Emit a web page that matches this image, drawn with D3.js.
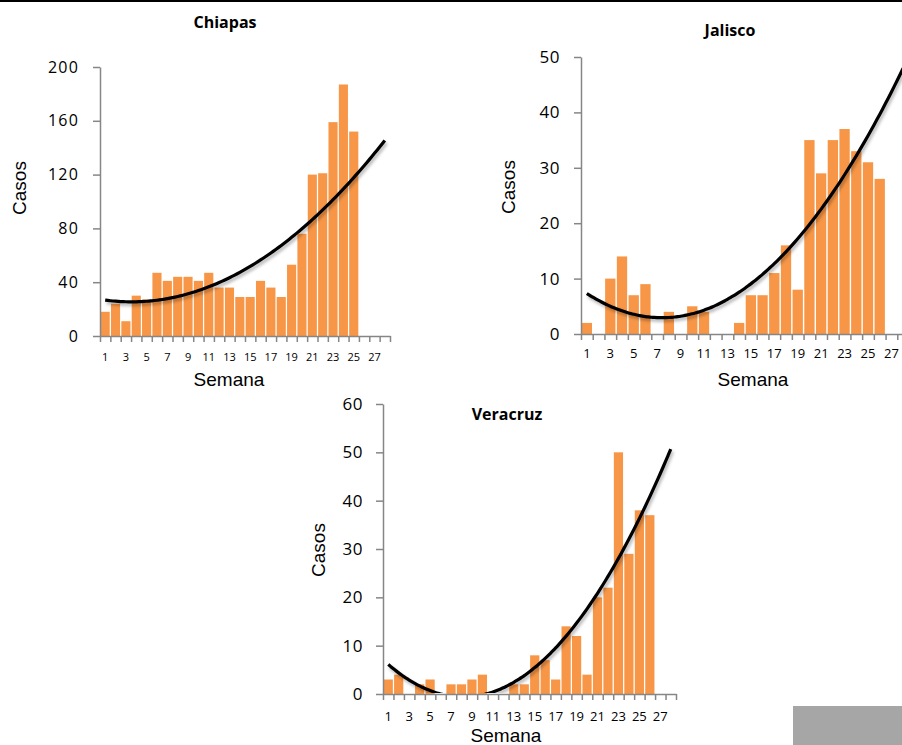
<!DOCTYPE html>
<html>
<head>
<meta charset="utf-8">
<script src="https://cdn.jsdelivr.net/npm/d3@7"></script>
<style>
  body { margin: 0; background: #fff; }
  .axis path, .axis line { stroke: #868686; stroke-width: 1.5; }
  .tickLabel { font-family: "Open Sans", sans-serif; fill: #000; }
  .axisTitle { font-family: "Liberation Sans", Arial, sans-serif; font-size: 19px; fill: #000; }
  .chartTitle { font-family: "Open Sans", sans-serif; font-weight: 700; font-size: 16px; fill: #000; }
</style>
</head>
<body>
<svg id="figure" width="902" height="745"></svg>
<script>
// semanas epidemiologicas (categorias del eje x)
var weeks = [1, 2, 3, 4, 5, 6, 7, 8, 9, 10, 11, 12, 13, 14, 15, 16, 17, 18, 19, 20, 21, 22, 23, 24, 25, 26, 27, 28];
var weekLabels = [1, 3, 5, 7, 9, 11, 13, 15, 17, 19, 21, 23, 25, 27];

// casos por semana
var chiapasCases = [18, 24, 11, 30, 27, 47, 41, 44, 44, 41, 47, 36, 36, 29, 29, 41, 36, 29, 53, 76, 120, 121, 159, 187, 152];
var jaliscoCases = [2, 0, 10, 14, 7, 9, 0, 4, 0, 5, 4, 0, 0, 2, 7, 7, 11, 16, 8, 35, 29, 35, 37, 33, 31, 28];
var veracruzCases = [3, 4, 0, 2, 3, 0, 2, 2, 3, 4, 0, 0, 2, 2, 8, 7, 3, 14, 12, 4, 20, 22, 50, 29, 38, 37];

// la tendencia de Chiapas no coincide con un ajuste de sus barras: coeficientes [c, b, a]
var chiapasTrend = [27.9, -1.42, 0.2006];

var chiapasTicks = [0, 40, 80, 120, 160, 200];
var jaliscoTicks = [0, 10, 20, 30, 40, 50];
var veracruzTicks = [0, 10, 20, 30, 40, 50, 60];

var svg = d3.select("#figure");

// sombra suave de la linea de tendencia
var defs = svg.append("defs");
defs.append("filter")
    .attr("id", "trendShadow")
    .attr("x", "-10%").attr("y", "-10%").attr("width", "120%").attr("height", "130%")
    .append("feDropShadow")
    .attr("dx", 1.5).attr("dy", 2.5)
    .attr("stdDeviation", 1.8)
    .attr("flood-color", "#000")
    .attr("flood-opacity", 0.3);

// linea superior y recuadro gris
svg.append("rect")
    .attr("x", 0).attr("y", 0)
    .attr("width", 902).attr("height", 2)
    .attr("fill", "#000");

svg.append("rect")
    .attr("x", 793).attr("y", 706)
    .attr("width", 109).attr("height", 39)
    .attr("fill", "#a6a6a6");

// ajuste polinomial de grado 2 por minimos cuadrados (como la linea de tendencia de Excel)
function quadFit(values) {
    var s = [0, 0, 0, 0, 0], t = [0, 0, 0];
    values.forEach(function(v, i) {
        var x = i + 1;
        var p = 1;
        for (var k = 0; k < 5; k++) {
            s[k] += p;
            if (k < 3) t[k] += p * v;
            p *= x;
        }
    });
    var m = [[s[0], s[1], s[2], t[0]],
             [s[1], s[2], s[3], t[1]],
             [s[2], s[3], s[4], t[2]]];
    for (var c = 0; c < 3; c++) {
        for (var r = c + 1; r < 3; r++) {
            var f = m[r][c] / m[c][c];
            for (var j = c; j < 4; j++) m[r][j] -= f * m[c][j];
        }
    }
    var coef = [0, 0, 0];
    for (var r2 = 2; r2 >= 0; r2--) {
        var sum = m[r2][3];
        for (var j2 = r2 + 1; j2 < 3; j2++) sum -= m[r2][j2] * coef[j2];
        coef[r2] = sum / m[r2][r2];
    }
    return coef;
}

function drawChart(id, cases, yTicks, opts) {
    var g = svg.append("g").attr("id", id);

    var x = d3.scaleBand()
        .domain(weeks)
        .range([opts.left, opts.right])
        .paddingInner(0.12)
        .paddingOuter(0.06);

    // escala continua: centro de cada categoria
    var xc = d3.scaleLinear()
        .domain([1, weeks.length])
        .range([opts.left + x.step() / 2, opts.right - x.step() / 2]);

    var y = d3.scaleLinear()
        .domain([0, d3.max(yTicks)])
        .range([opts.bottom, opts.top]);

    // barras
    g.selectAll(".bar")
        .data(cases)
        .enter()
        .append("rect")
        .attr("class", "bar")
        .attr("x", function(d, i) { return x(weeks[i]); })
        .attr("width", x.bandwidth())
        .attr("y", function(d) { return y(d); })
        .attr("height", function(d) { return opts.bottom - y(d); })
        .attr("fill", "#f79646");

    // eje y
    var yAxis = g.append("g")
        .attr("class", "axis")
        .attr("transform", "translate(" + opts.left + ",0)")
        .call(d3.axisLeft(y).tickValues(yTicks).tickSize(7).tickSizeOuter(0).tickPadding(opts.yPad));
    yAxis.selectAll("text")
        .attr("class", "tickLabel")
        .style("font-size", opts.yFont + "px")
        .style("letter-spacing", opts.ySpacing + "px")
        .attr("fill", "#000");

    // eje x: marcas entre categorias
    var xb = d3.scaleLinear().domain([0, weeks.length]).range([opts.left, opts.right]);
    g.append("g")
        .attr("class", "axis")
        .attr("transform", "translate(0," + opts.bottom + ")")
        .call(d3.axisBottom(xb).tickValues(d3.range(0, weeks.length + 1)).tickSize(6).tickSizeOuter(0).tickFormat(""));

    g.selectAll(".xLabel")
        .data(weekLabels)
        .enter()
        .append("text")
        .attr("class", "tickLabel")
        .attr("x", function(d) { return x(d) + x.bandwidth() / 2; })
        .attr("y", opts.bottom + opts.xOffset)
        .attr("text-anchor", "middle")
        .style("font-size", opts.xFont + "px")
        .text(function(d) { return d; });

    // linea de tendencia
    var coef = opts.trend || quadFit(cases);
    var trend = d3.range(1, weeks.length + 0.001, 0.25).map(function(w) {
        return {w: w, v: coef[0] + coef[1] * w + coef[2] * w * w};
    });

    defs.append("clipPath")
        .attr("id", id + "Clip")
        .append("rect")
        .attr("x", opts.left - 10)
        .attr("y", opts.top - 2)
        .attr("width", opts.right - opts.left + 20)
        .attr("height", opts.bottom - opts.top + 1);

    g.append("g")
        .attr("clip-path", "url(#" + id + "Clip)")
        .append("path")
        .datum(trend)
        .attr("fill", "none")
        .attr("stroke", "#000")
        .attr("stroke-width", 3.2)
        .attr("filter", "url(#trendShadow)")
        .attr("d", d3.line()
            .curve(d3.curveBasis)
            .x(function(d) { return xc(d.w); })
            .y(function(d) { return y(d.v); }));

    // titulos
    g.append("text")
        .attr("class", "chartTitle")
        .attr("x", opts.titleX)
        .attr("y", opts.titleY)
        .attr("text-anchor", "middle")
        .text(opts.title);

    g.append("text")
        .attr("class", "axisTitle")
        .attr("text-anchor", "middle")
        .attr("transform", "translate(" + opts.casosX + "," + opts.casosY + ") rotate(-90)")
        .text("Casos");

    g.append("text")
        .attr("class", "axisTitle")
        .attr("x", opts.semanaX)
        .attr("y", opts.semanaY)
        .attr("text-anchor", "middle")
        .text("Semana");
}

drawChart("chiapas", chiapasCases, chiapasTicks, {
    left: 100, right: 390, top: 67, bottom: 336, trend: chiapasTrend,
    yFont: 16, ySpacing: 1.2, yPad: 14, xFont: 11, xOffset: 25,
    title: "Chiapas", titleX: 225, titleY: 28,
    casosX: 26, casosY: 188, semanaX: 229, semanaY: 386
});

drawChart("jalisco", jaliscoCases, jaliscoTicks, {
    left: 581, right: 909, top: 57, bottom: 334,
    yFont: 17, ySpacing: 0.5, yPad: 14, xFont: 13, xOffset: 24,
    title: "Jalisco", titleX: 730, titleY: 36,
    casosX: 515, casosY: 187, semanaX: 753, semanaY: 386
});

drawChart("veracruz", veracruzCases, veracruzTicks, {
    left: 383, right: 676, top: 404, bottom: 694,
    yFont: 17, ySpacing: 0.5, yPad: 13, xFont: 13, xOffset: 27,
    title: "Veracruz", titleX: 507, titleY: 420,
    casosX: 325, casosY: 550, semanaX: 506, semanaY: 742
});
</script>
</body>
</html>
